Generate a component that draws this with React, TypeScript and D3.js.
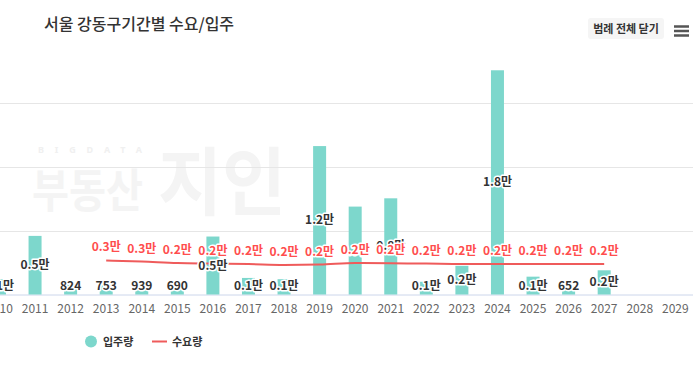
import React from "react";
import * as d3 from "d3";

// 기간별 수요/입주 (서울 강동구)
const years = ["2010", "2011", "2012", "2013", "2014", "2015", "2016", "2017", "2018", "2019",
  "2020", "2021", "2022", "2023", "2024", "2025", "2026", "2027", "2028", "2029"];
const supplyYears = ["2010", "2011", "2012", "2013", "2014", "2015", "2016", "2017", "2018",
  "2019", "2020", "2021", "2022", "2023", "2024", "2025", "2026", "2027"];
const supply = [1200, 4600, 824, 753, 939, 690, 4550, 1300, 1200, 11650, 6900, 7550, 1000,
  2250, 17600, 1400, 652, 1900];
const demandYears = ["2013", "2014", "2015", "2016", "2017", "2018", "2019", "2020", "2021",
  "2022", "2023", "2024", "2025", "2026", "2027"];
const demand = [2670, 2590, 2470, 2430, 2390, 2320, 2350, 2470, 2450, 2430, 2400, 2400, 2400,
  2400, 2400];
const gridTicks = [5000, 10000, 15000];

const W = 697;
const H = 365;
const baseY = 294.5;
const barColor = "#7dd7cc";
const lineColor = "#ef5b5b";
const numFont = "'Liberation Sans Narrow', 'Noto Sans CJK KR', sans-serif";
const krFont = "'Noto Sans CJK KR', sans-serif";

const fmt = (v: number) => (v >= 1000 ? (v / 10000).toFixed(1) + "만" : String(v));

const App = () => {
  const x = d3.scaleBand().domain(years).range([-18.3, 693.1]).padding(0);
  const y = d3.scaleLinear().domain([0, 20000]).range([baseY, baseY - 254.8]);
  const cx = (yr: string) => (x(yr) as number) + x.bandwidth() / 2;
  const barW = 13;

  const line = d3
    .line<number>()
    .x((d, i) => cx(demandYears[i]))
    .y(d => y(d))
    .curve(d3.curveMonotoneX);

  const outline = { paintOrder: "stroke", stroke: "#fff", strokeWidth: 3, strokeLinejoin: "round" } as any;

  return (
    <div style={{ position: "fixed", left: 0, top: 0 }}>
      <svg width={W} height={H} style={{ display: "block", background: "#fff" }}>
        {/* watermark */}
        <g fill="#f4f4f4" fontWeight="bold">
          <text x={38} y={153} fontSize={9} fontFamily="'Noto Sans', sans-serif" textLength={104} fill="#f0f0f0">BIGDATA</text>
          <text x={32} y={207} fontSize={46} fontFamily={krFont} textLength={111} lengthAdjust="spacingAndGlyphs">부동산</text>
          <text x={158} y={209} fontSize={74} fontFamily={krFont} textLength={128} lengthAdjust="spacingAndGlyphs">지인</text>
        </g>

        {/* title */}
        <text x={44} y={30} fontSize={16} fontWeight={500} fill="#333" fontFamily={krFont}>
          서울 강동구기간별 수요/입주
        </text>
        <rect x={588} y={18} width={76} height={21} rx={3} fill="#f5f5f5" />
        <text x={626} y={32.5} textAnchor="middle" fontSize={11} fontWeight="bold" fill="#333" fontFamily={krFont}>
          범례 전체 닫기
        </text>
        <g stroke="#555" strokeWidth={2.5}>
          {[26.5, 31, 35.5].map(v => (
            <line key={v} x1={674} x2={689} y1={v} y2={v} />
          ))}
        </g>

        {/* grid */}
        {gridTicks.map(t => (
          <line key={t} x1={0} x2={693} y1={Math.round(y(t)) + 0.5} y2={Math.round(y(t)) + 0.5} stroke="#e6e6e6" />
        ))}
        <line x1={0} x2={693} y1={baseY + 0.5} y2={baseY + 0.5} stroke="#ccd6eb" />

        {/* x axis labels */}
        {years.map(yr => (
          <text key={yr} x={cx(yr)} y={313} textAnchor="middle" fontSize={12} fill="#666" fontFamily={numFont}>
            {yr}
          </text>
        ))}

        {/* bars */}
        {supply.map((v, i) => (
          <rect key={i} x={cx(supplyYears[i]) - barW / 2} y={y(v)} width={barW} height={baseY - y(v)} fill={barColor} />
        ))}

        {/* demand line */}
        <path d={line(demand) as string} fill="none" stroke={lineColor} strokeWidth={2} />

        {/* bar labels */}
        {supply.map((v, i) => {
          const mid = (y(v) + baseY) / 2;
          const ly = Math.min(mid, baseY - 9);
          return (
            <text key={i} x={cx(supplyYears[i])} y={ly + 4} textAnchor="middle" fontSize={12} fontWeight="bold"
              fill="#333" fontFamily={numFont} style={outline}>
              {fmt(v)}
            </text>
          );
        })}

        {/* demand labels */}
        {demand.map((v, i) => (
          <text key={i} x={cx(demandYears[i])} y={y(v) - 9} textAnchor="middle" fontSize={12} fontWeight="bold"
            fill="#ff4d4d" fontFamily={numFont} style={outline}>
            {fmt(v)}
          </text>
        ))}

        {/* legend */}
        <circle cx={91} cy={341.5} r={6} fill={barColor} />
        <text x={103} y={345.5} fontSize={11} fontWeight="bold" fill="#333" fontFamily={krFont}>입주량</text>
        <line x1={152} x2={167} y1={341.5} y2={341.5} stroke={lineColor} strokeWidth={2} />
        <text x={172} y={345.5} fontSize={11} fontWeight="bold" fill="#333" fontFamily={krFont}>수요량</text>
      </svg>
    </div>
  );
};

export default App;
